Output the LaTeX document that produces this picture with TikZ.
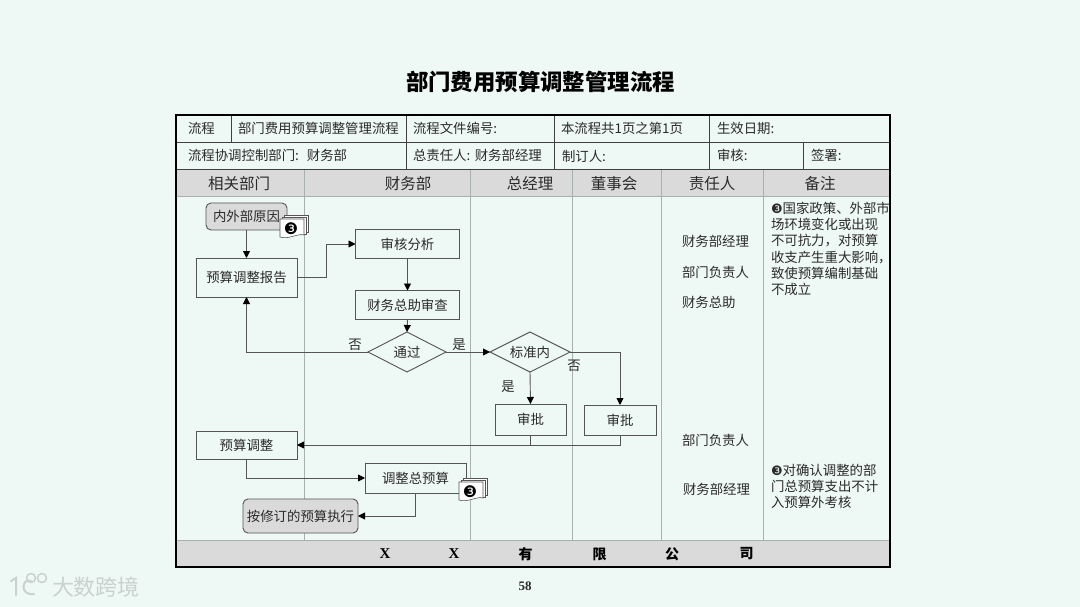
\documentclass[tikz,border=0pt]{standalone}
\usepackage{fontspec}
\setmainfont{Noto Sans CJK SC}
\newfontfamily\symfont{DejaVu Sans}
\newfontfamily\latinserif{Liberation Serif}
\usetikzlibrary{arrows.meta,shapes.geometric}
\definecolor{bgc}{HTML}{EEF8F4}
\definecolor{hdr}{HTML}{DADADA}
\definecolor{linec}{HTML}{555555}
\definecolor{colc}{HTML}{A9B1AE}
\definecolor{txt}{HTML}{2A2A2A}
\definecolor{wm}{HTML}{C9D2CF}
\newcommand{\tx}[1]{\raisebox{-0.8pt}{#1}}
\tikzset{
  every node/.style={inner sep=0pt,outer sep=0pt,text=txt},
  sz/.style={font=\fontsize{13.4}{16.3}\selectfont},
  hd/.style={font=\fontsize{15.5}{18}\selectfont,yshift=-0.6pt},
  lab/.style={sz,anchor=west,yshift=-0.8pt},
  stepbox/.style={draw=linec,line width=0.9pt,sz,minimum width=#1,fill=bgc},
  termbox/.style={draw=linec,line width=0.9pt,sz,rounded corners=5pt,fill=hdr,minimum width=#1},
  decide/.style={diamond,draw=linec,line width=0.9pt,sz,aspect=1.95,fill=bgc},
  conn/.style={draw=linec,line width=0.9pt,-{Triangle[length=7pt,width=7pt,fill=black,color=black]}},
  plainconn/.style={draw=linec,line width=0.9pt},
  frameline/.style={draw=black!75,line width=0.9pt},
  colline/.style={draw=colc,line width=0.9pt},
  sheet/.style={draw=linec,line width=0.6pt,fill=white},
  foot/.style={font=\fontsize{14}{18}\bfseries\selectfont,text=black},
  footx/.style={font=\latinserif\fontsize{15}{18}\bfseries\selectfont,text=black},
}
\newcommand{\docicon}[3]{%
  \begin{scope}[shift={(#1,#2)}]
    \draw[sheet] (4,-4) rectangle (28,13);
    \draw[sheet] (2,-2) rectangle (26,15);
    \draw[sheet] (0,0) -- (24,0) -- (24,16) .. controls (18,14) and (8,21) .. (0,18) -- cycle;
    \node[font=\symfont\fontsize{16}{16}\selectfont,text=black] (#3) at (11,10) {❸};
  \end{scope}}
\begin{document}
\begin{tikzpicture}[x=1pt,y=-1pt]
\useasboundingbox (0,0) rectangle (1080,607);
\fill[bgc] (0,0) rectangle (1080,607);
% title
\node[font=\fontsize{22.4}{26}\bfseries\selectfont,text=black] (title) at (540.5,82) {部门费用预算调整管理流程};
% bands
\fill[hdr] (176,169) rectangle (890,196);
\fill[hdr] (176,540) rectangle (890,567);
% column lines
\foreach \x in {304,470,572,661.5,763.5}{\draw[colline] (\x,169) -- (\x,540);}
\draw[colline] (176,196) -- (890,196);
\draw[colline] (176,540) -- (890,540);
% header table lines
\draw[frameline] (176,142) -- (890,142);
\draw[frameline] (176,169) -- (890,169);
\draw[frameline] (231,115) -- (231,142);
\foreach \x in {406,554,709}{\draw[frameline] (\x,115) -- (\x,169);}
\draw[frameline] (803.5,142) -- (803.5,169);
% outer frame
\draw[black,line width=2.4pt] (176,115) rectangle (890,567);
% table text
\node[lab] (t1) at (188,128) {流程};
\node[lab] (t2) at (238,128) {部门费用预算调整管理流程};
\node[lab] (t3) at (413,128) {流程文件编号:};
\node[lab] (t4) at (561,128) {本流程共1页之第1页};
\node[lab] (t5) at (717,128) {生效日期:};
\node[lab] (t6) at (188,155) {流程协调控制部门:\hspace{8pt}财务部};
\node[lab] (t7) at (413,155) {总责任人:\hspace{4.5pt}财务部经理};
\node[lab] (t8) at (562,156) {制订人:};
\node[lab] (t9) at (717,155) {审核:};
\node[lab] (t10) at (811,155) {签署:};
% column headers
\node[hd] (h1) at (239,183) {相关部门};
\node[hd] (h2) at (408,183) {财务部};
\node[hd] (h3) at (530,183) {总经理};
\node[hd] (h4) at (614,183) {董事会};
\node[hd] (h5) at (712,183) {责任人};
\node[hd] (h6) at (820,183) {备注};
% flow nodes
\node[termbox=81pt,minimum height=27pt] (reason) at (246.5,216.5) {\tx{内外部原因}\hspace{4pt}};
\node[stepbox=101pt,minimum height=39pt] (report) at (246.5,277.5) {\tx{预算调整报告}};
\node[stepbox=104pt,minimum height=29pt] (analysis) at (407.5,244) {\tx{审核分析}};
\node[stepbox=104pt,minimum height=29pt] (check) at (407.5,305) {\tx{财务总助审查}};
\node[decide,minimum width=78pt,minimum height=40pt] (pass) at (407,352) {\tx{通过}};
\node[decide,minimum width=80pt,minimum height=40pt] (std) at (530,352) {\tx{标准内}};
\node[stepbox=71pt,minimum height=31pt] (appr1) at (530.5,419.5) {\tx{审批}};
\node[stepbox=72pt,minimum height=30pt] (appr2) at (620,420) {\tx{审批}};
\node[stepbox=101pt,minimum height=28pt] (adjust) at (246.5,445) {\tx{预算调整}};
\node[stepbox=101pt,minimum height=30pt] (total) at (415.5,478) {\tx{调整总预算}};
\node[termbox=115pt,minimum height=34pt] (exec) at (300.5,516) {\tx{按修订的预算执行}};
% icons
\docicon{280}{219}{numa}
\docicon{459}{482}{numb}
% connectors
\draw[conn] (reason.south) -- (report.north);
\draw[conn] (report.east) -- ++(29,0) |- (analysis.west);
\draw[conn] (analysis.south) -- (check.north);
\draw[conn] (check.south) -- (pass.north);
\draw[conn] (pass.west) -| (report.south);
\draw[conn] (pass.east) -- (std.west);
\draw[conn] (std.south) -- (appr1.north);
\draw[conn] (std.east) -| (appr2.north);
\draw[plainconn] (appr2.south) |- (adjust.east);
\draw[conn] (appr1.south) |- (adjust.east);
\draw[conn] (adjust.south) |- (total.west);
\draw[conn] (total.south) |- (exec.east);
% branch labels
\node[sz] (n1) at (355,344.5) {否};
\node[sz] (y1) at (459,344.5) {是};
\node[sz] (n2) at (574,365.5) {否};
\node[sz] (y2) at (508,386.5) {是};
% responsible column
\node[lab] (r1) at (682,241) {财务部经理};
\node[lab] (r2) at (682,272) {部门负责人};
\node[lab] (r3) at (682,302) {财务总助};
\node[lab] (r4) at (682,440) {部门负责人};
\node[lab] (r5) at (683,489) {财务部经理};
% notes
\node[sz,anchor=north west,align=left] (note1) at (771,202) {{\symfont\fontsize{13}{13}\selectfont ❸}国家政策、外部市\\场环境变化或出现\\不可抗力，对预算\\收支产生重大影响，\\致使预算编制基础\\不成立};
\node[sz,anchor=north west,align=left] (note2) at (771,464) {{\symfont\fontsize{13}{13}\selectfont ❸}对确认调整的部\\门总预算支出不计\\入预算外考核};
% footer
\node[footx] (f1) at (385,554) {X};
\node[footx] (f2) at (454,554) {X};
\node[foot] (f3) at (525.5,554) {有};
\node[foot] (f4) at (599.5,554) {限};
\node[foot] (f5) at (672,554) {公};
\node[foot] (f6) at (746.5,554) {司};
\node[font=\latinserif\fontsize{13}{16}\bfseries\selectfont] (page) at (525,586) {58};
% watermark
\draw[wm,line width=2pt,line cap=round] (11,581) -- (16,578) -- (16,595);
\draw[wm,line width=2pt,line cap=round] (31,581) .. controls (22,577) and (19,596) .. (34,594);
\draw[wm,line width=1.5pt] (31,578) circle (4.5pt);
\draw[wm,line width=1.5pt] (42,578) circle (4.5pt);
\node[font=\fontsize{22}{24}\selectfont,text=wm] (wmark) at (96,587) {大数跨境};
\end{tikzpicture}
\end{document}
